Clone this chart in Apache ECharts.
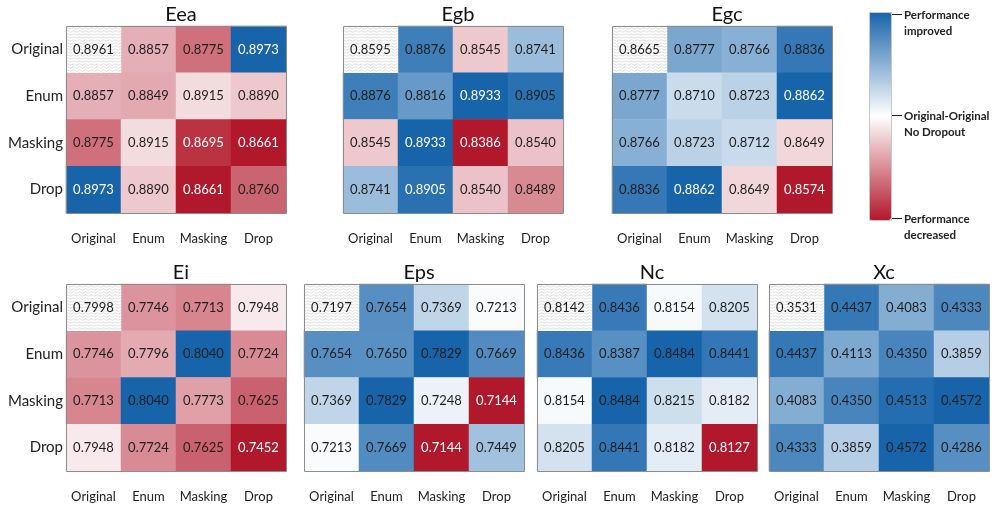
<!DOCTYPE html>
<html>
<head>
<meta charset="utf-8">
<script src="https://cdn.jsdelivr.net/npm/echarts@6/dist/echarts.min.js"></script>
<style>
html, body { margin: 0; padding: 0; background: #fff; }
#chart { width: 996px; height: 514px; }
</style>
</head>
<body>
<div id="chart"></div>
<script>
// categories (rows = columns, symmetric matrices)
const methods = ['Original', 'Enum', 'Masking', 'Drop'];
const titles = ['Eea', 'Egb', 'Egc', 'Ei', 'Eps', 'Nc', 'Xc'];

const eea = [
  [0.8961, 0.8857, 0.8775, 0.8973],
  [0.8857, 0.8849, 0.8915, 0.8890],
  [0.8775, 0.8915, 0.8695, 0.8661],
  [0.8973, 0.8890, 0.8661, 0.8760]
];
const egb = [
  [0.8595, 0.8876, 0.8545, 0.8741],
  [0.8876, 0.8816, 0.8933, 0.8905],
  [0.8545, 0.8933, 0.8386, 0.8540],
  [0.8741, 0.8905, 0.8540, 0.8489]
];
const egc = [
  [0.8665, 0.8777, 0.8766, 0.8836],
  [0.8777, 0.8710, 0.8723, 0.8862],
  [0.8766, 0.8723, 0.8712, 0.8649],
  [0.8836, 0.8862, 0.8649, 0.8574]
];
const ei = [
  [0.7998, 0.7746, 0.7713, 0.7948],
  [0.7746, 0.7796, 0.8040, 0.7724],
  [0.7713, 0.8040, 0.7773, 0.7625],
  [0.7948, 0.7724, 0.7625, 0.7452]
];
const eps = [
  [0.7197, 0.7654, 0.7369, 0.7213],
  [0.7654, 0.7650, 0.7829, 0.7669],
  [0.7369, 0.7829, 0.7248, 0.7144],
  [0.7213, 0.7669, 0.7144, 0.7449]
];
const nc = [
  [0.8142, 0.8436, 0.8154, 0.8205],
  [0.8436, 0.8387, 0.8484, 0.8441],
  [0.8154, 0.8484, 0.8215, 0.8182],
  [0.8205, 0.8441, 0.8182, 0.8127]
];
const xc = [
  [0.3531, 0.4437, 0.4083, 0.4333],
  [0.4437, 0.4113, 0.4350, 0.3859],
  [0.4083, 0.4350, 0.4513, 0.4572],
  [0.4333, 0.3859, 0.4572, 0.4286]
];
const panels = [eea, egb, egc, ei, eps, nc, xc];

// cells printed in white, [row, col] per panel
const whiteCells = [
  [[0, 3], [3, 0], [2, 2], [2, 3], [3, 2]],
  [[1, 2], [2, 1], [2, 2], [3, 1]],
  [[1, 3], [3, 1], [3, 3]],
  [[3, 3]],
  [[2, 3], [3, 2]],
  [[3, 3]],
  []
];

const legendTexts = [
  ['Performance', 'improved'],
  ['Original-Original', 'No Dropout'],
  ['Performance', 'decreased']
];

// layout: [left, top, width, height]
const boxes = [
  [66, 26, 220, 187], [343, 26, 220, 187], [612, 26, 220, 187],
  [66, 284, 220, 187], [304, 284, 220, 187], [537, 284, 220, 187], [769, 284, 220, 187]
];

const FONT = 'Lato, "Open Sans", sans-serif';

function makeHatch() {
  const c = document.createElement('canvas');
  c.width = 6; c.height = 3;
  const ctx = c.getContext('2d');
  ctx.fillStyle = '#ffffff';
  ctx.fillRect(0, 0, 6, 3);
  ctx.strokeStyle = '#d0d0d0';
  ctx.lineWidth = 0.7;
  ctx.beginPath();
  ctx.moveTo(0, 1.5); ctx.lineTo(1.5, 0.8); ctx.lineTo(4.5, 2.2); ctx.lineTo(6, 1.5);
  ctx.stroke();
  return c;
}
const hatch = makeHatch();

const grid = [], xAxis = [], yAxis = [], series = [], title = [], graphic = [];
const mainSeries = [];

panels.forEach(function (m, i) {
  const b = boxes[i];
  const base = m[0][0];
  let vmax = base, vmin = base;
  m.forEach(r => r.forEach(v => { vmax = Math.max(vmax, v); vmin = Math.min(vmin, v); }));
  const white = whiteCells[i];
  const isWhite = (r, c) => white.some(w => w[0] === r && w[1] === c);

  grid.push({ left: b[0], top: b[1], width: b[2], height: b[3] });
  xAxis.push({
    type: 'category', gridIndex: i, data: methods, position: 'bottom',
    axisLine: { show: false }, axisTick: { show: false }, splitLine: { show: false },
    axisLabel: { interval: 0, margin: 19, fontSize: 13, color: '#222', fontFamily: FONT }
  });
  yAxis.push({
    type: 'category', gridIndex: i, data: methods, inverse: true,
    axisLine: { show: false }, axisTick: { show: false }, splitLine: { show: false },
    axisLabel: { show: i === 0 || i === 3, interval: 0, margin: 3, fontSize: 15, color: '#222', fontFamily: FONT }
  });

  const cells = [];
  for (let r = 0; r < 4; r++) {
    for (let c = 0; c < 4; c++) {
      if (r === 0 && c === 0) continue;
      const v = m[r][c];
      let t = 0;
      if (v > base) t = (v - base) / (vmax - base);
      else if (v < base) t = (v - base) / (base - vmin);
      cells.push({ value: [c, r, v, t], label: { color: isWhite(r, c) ? '#ffffff' : '#1e1e1e' } });
    }
  }
  mainSeries.push(series.length);
  series.push({
    type: 'heatmap', xAxisIndex: i, yAxisIndex: i, data: cells,
    label: { show: true, fontSize: 13, fontFamily: FONT, formatter: p => p.value[2].toFixed(4) },
    emphasis: { disabled: true }
  });
  series.push({
    type: 'heatmap', xAxisIndex: i, yAxisIndex: i,
    data: [[0, 0, base]],
    itemStyle: { color: { image: hatch, repeat: 'repeat' } },
    label: { show: true, fontSize: 13, fontFamily: FONT, color: '#1e1e1e', formatter: p => p.value[2].toFixed(4) },
    emphasis: { disabled: true }
  });

  title.push({
    text: titles[i], left: b[0] + b[2] / 2, top: b[1] - 26, textAlign: 'center',
    textStyle: { fontSize: 20, fontWeight: 'normal', color: '#111', fontFamily: FONT }
  });
  graphic.push({
    type: 'rect', z: 100, silent: true,
    shape: { x: b[0] + 0.5, y: b[1] + 0.5, width: b[2], height: b[3] },
    style: { fill: 'none', stroke: '#8c8c8c', lineWidth: 1 }
  });
});

// colour bar frame, ticks and texts
const barX = 869, barY = 12, barW = 22, barH = 208;
graphic.push({
  type: 'rect', z: 100, silent: true,
  shape: { x: barX + 0.5, y: barY + 0.5, width: barW, height: barH },
  style: { fill: 'none', stroke: '#c8c8c8', lineWidth: 1 }
});
const tickY = [barY + 2, barY + 103, barY + 206];
legendTexts.forEach(function (lines, k) {
  graphic.push({
    type: 'line', z: 100, silent: true,
    shape: { x1: barX + barW + 1, y1: tickY[k] + 0.5, x2: barX + barW + 11, y2: tickY[k] + 0.5 },
    style: { stroke: '#222', lineWidth: 1 }
  });
  graphic.push({
    type: 'text', z: 100, silent: true,
    style: {
      x: barX + barW + 13, y: tickY[k] - 7, text: lines.join('\n'),
      fontSize: 11.5, fontWeight: 'bold', fill: '#222', lineHeight: 16, fontFamily: FONT
    }
  });
});

const chart = echarts.init(document.getElementById('chart'));
chart.setOption({
  animation: false,
  backgroundColor: '#ffffff',
  textStyle: { fontFamily: FONT },
  title: title,
  grid: grid,
  xAxis: xAxis,
  yAxis: yAxis,
  visualMap: {
    type: 'continuous', min: -1, max: 1, dimension: 3, seriesIndex: mainSeries,
    calculable: false, realtime: false, hoverLink: false, padding: 0,
    left: barX, top: barY, itemWidth: barW, itemHeight: barH,
    inRange: { color: ['#b2182b', '#ffffff', '#1764ab'] }
  },
  series: series,
  graphic: graphic
});
</script>
</body>
</html>
